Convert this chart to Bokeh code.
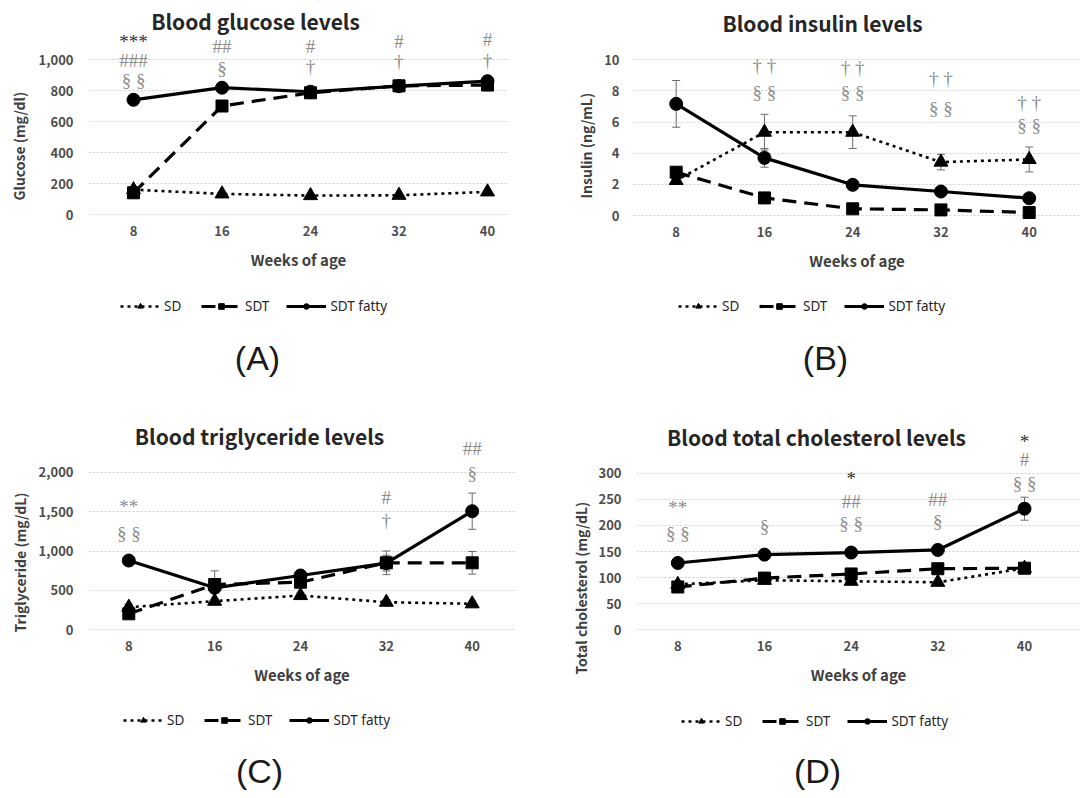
import math
from bokeh.plotting import figure
from bokeh.models import (Range1d, FixedTicker, NumeralTickFormatter, Label, Legend,
                          LegendItem, Whisker, TeeHead, ColumnDataSource)
from bokeh.layouts import column, row
from bokeh.embed import file_html
from bokeh.resources import INLINE
from bokeh.core.properties import value

# ---------------- data ----------------
weeks = [8, 16, 24, 32, 40]
series_names = ["SD", "SDT", "SDT fatty"]

glucose_sd = [160, 133, 122, 124, 146]
glucose_sdt = [140, 700, 785, 830, 835]
glucose_fatty = [740, 818, 792, 828, 860]
glucose_ticks = [0, 200, 400, 600, 800, 1000]

insulin_sd = [2.25, 5.35, 5.35, 3.43, 3.6]
insulin_sdt = [2.78, 1.13, 0.43, 0.36, 0.19]
insulin_fatty = [7.17, 3.7, 1.97, 1.54, 1.11]
insulin_sd_err = [0.2, 1.15, 1.05, 0.5, 0.8]
insulin_sdt_err = [0.2, 0.12, 0.1, 0.08, 0.05]
insulin_fatty_err = [1.5, 0.6, 0.15, 0.15, 0.12]
insulin_ticks = [0, 2, 4, 6, 8, 10]

tg_sd = [287, 363, 435, 350, 330]
tg_sdt = [203, 575, 604, 850, 850]
tg_fatty = [879, 533, 689, 846, 1505]
tg_sd_err = [40, 30, 40, 30, 35]
tg_sdt_err = [30, 60, 50, 150, 144]
tg_fatty_err = [30, 215, 40, 100, 230]
tg_ticks = [0, 500, 1000, 1500, 2000]

chol_sd = [87, 95, 93, 91, 118]
chol_sdt = [82, 99, 107, 117, 118]
chol_fatty = [128, 144, 148, 153, 232]
chol_sd_err = [4, 5, 5, 4, 5]
chol_sdt_err = [4, 6, 6, 6, 5]
chol_fatty_err = [5, 8, 5, 7, 22]
chol_ticks = [0, 50, 100, 150, 200, 250, 300]

# significance marks: week, level, text, dark?
glucose_note_x = [8, 8, 8, 16, 16, 24, 24, 32, 32, 40, 40]
glucose_note_y = [1113, 995, 867, 1081, 942, 1081, 953, 1113, 985, 1128, 995]
glucose_note_text = ["***", "###", "§ §", "##", "§", "#", "†", "#", "†", "#", "†"]
glucose_note_dark = [True] + [False] * 10

insulin_note_x = [16, 16, 24, 24, 32, 32, 40, 40]
insulin_note_y = [9.64, 7.92, 9.5, 7.9, 8.78, 6.85, 7.28, 5.78]
insulin_note_text = ["† †", "§ §", "† †", "§ §", "† †", "§ §", "† †", "§ §"]
insulin_note_dark = [False] * 8

tg_note_x = [8, 8, 32, 32, 40, 40]
tg_note_y = [1565, 1218, 1683, 1387, 2297, 1980]
tg_note_text = ["**", "§ §", "#", "†", "##", "§"]
tg_note_dark = [False] * 6

chol_note_x = [8, 8, 16, 24, 24, 24, 32, 32, 40, 40, 40]
chol_note_y = [235, 185, 198, 289, 246, 203, 249, 208, 361, 326, 280]
chol_note_text = ["**", "§ §", "§", "*", "##", "§ §", "##", "§", "*", "#", "§ §"]
chol_note_dark = [False, False, False, True, False, False, False, False, True, False, False]

TICK_FONT = "Noto Sans CJK JP"
NOTE_FONT = "Liberation Serif"
PW, PH = 543, 399


def blank(width, height):
    f = figure(width=width, height=height, output_backend="svg", toolbar_location=None,
               x_range=Range1d(0, width), y_range=Range1d(0, height), min_border=0,
               x_axis_location=None, y_axis_location=None, outline_line_color=None,
               border_fill_color="white", background_fill_color="white")
    f.grid.visible = False
    return f


def series_glyphs(p, xs, sd, sdt, fat):
    l1 = p.line(xs, sd, line_color="black", line_width=2.6, line_dash="3 4")
    m1 = p.scatter(xs, sd, marker="triangle", size=14, color="black")
    l2 = p.line(xs, sdt, line_color="black", line_width=3.2, line_dash="14 8")
    m2 = p.scatter(xs, sdt, marker="square", size=12, color="black")
    l3 = p.line(xs, fat, line_color="black", line_width=3.2)
    m3 = p.scatter(xs, fat, marker="circle", size=13, color="black")
    return (l1, m1), (l2, m2), (l3, m3)


def make_panel(cfg):
    fl, fr, ft, fb = cfg["frame"]
    w1 = cfg["w1"]
    Ht = fb + 62
    Hb = PH - Ht
    x8, x40 = cfg["xpx"]
    y0px, ytpx, ytv = cfg["ypx"]
    kx = 32.0 / (x40 - x8)
    xs = 8 - (x8 - fl) * kx
    xe = 40 + (fr - x40) * kx
    ky = ytv / (y0px - ytpx)
    ys = -(fb - y0px) * ky
    ye = (y0px - ft) * ky

    p = figure(width=PW - w1, height=Ht, output_backend="svg", toolbar_location=None,
               x_range=Range1d(xs, xe), y_range=Range1d(ys, ye),
               min_border_left=fl - w1, min_border_right=PW - fr,
               min_border_top=ft, min_border_bottom=Ht - fb,
               outline_line_color=None, background_fill_color="white",
               border_fill_color="white")

    for ax in (p.xaxis[0], p.yaxis[0]):
        ax.axis_line_color = None
        ax.major_tick_line_color = None
        ax.minor_tick_line_color = None
        ax.major_tick_out = 0
        ax.major_tick_in = 0
        ax.major_label_text_font = TICK_FONT
        ax.major_label_text_font_style = "bold"
        ax.major_label_text_font_size = "13px"
        ax.major_label_text_color = "#4d4d4d"
    p.xaxis.ticker = FixedTicker(ticks=weeks)
    p.xaxis.major_label_standoff = 7
    p.xaxis.axis_label = "Weeks of age"
    p.xaxis.axis_label_text_font = TICK_FONT
    p.xaxis.axis_label_text_font_style = "bold"
    p.xaxis.axis_label_text_font_size = "15px"
    p.xaxis.axis_label_text_color = "#404040"
    p.xaxis.axis_label_standoff = 10
    p.yaxis.ticker = FixedTicker(ticks=cfg["yticks"])
    p.yaxis.major_label_standoff = cfg["ystand"]
    if cfg.get("fmt"):
        p.yaxis.formatter = NumeralTickFormatter(format=cfg["fmt"])

    p.xgrid.grid_line_color = None
    p.ygrid.grid_line_color = "#cfcfcf"
    p.ygrid.grid_line_dash = "2 2"
    p.ygrid.grid_line_width = 1

    sd, sdt, fat = cfg["series"]
    errs = cfg.get("errs")
    if errs:
        for vals, e in zip((sd, sdt, fat), errs):
            src = ColumnDataSource(dict(x=weeks, upper=[v + d for v, d in zip(vals, e)],
                                        lower=[v - d for v, d in zip(vals, e)]))
            wk = Whisker(base="x", upper="upper", lower="lower", source=src,
                         line_color="#6b6b6b", line_width=1,
                         upper_head=TeeHead(size=8, line_color="#6b6b6b", line_width=1),
                         lower_head=TeeHead(size=8, line_color="#6b6b6b", line_width=1))
            p.add_layout(wk)

    series_glyphs(p, weeks, sd, sdt, fat)

    nx, ny, nt, nd = cfg["notes"]
    src = ColumnDataSource(dict(x=nx, y=ny, t=nt,
                                c=["#333333" if d else "#8c8c8c" for d in nd]))
    p.text(x="x", y="y", text="t", source=src, text_color="c",
           text_font=value(NOTE_FONT), text_font_size="19px",
           text_align="center", text_baseline="middle")

    # title (inside the top of the frame area)
    gx, gy = cfg["title_pos"]
    p.add_layout(Label(x=gx - fl, y=fb - gy, x_units="screen", y_units="screen",
                       text=cfg["title"], text_font=TICK_FONT, text_font_style="bold",
                       text_font_size="21px", text_color="#262626",
                       text_align="center", text_baseline="middle"))

    # y axis label strip, full panel height (text starts at its lower end)
    yl = blank(w1, PH)
    lx, ly = cfg["ylabel_pos"]
    yl.add_layout(Label(x=lx, y=PH - ly, x_units="screen", y_units="screen",
                        text=cfg["ylabel"], angle=math.pi / 2, text_font=TICK_FONT,
                        text_font_style="bold", text_font_size="14px", text_color="#404040",
                        text_align="left", text_baseline="middle"))

    # bottom figure: legend + panel letter (legend glyph renderers hidden);
    # its frame is aligned with the plot frame above, so x is measured from fl
    bt = blank(PW - w1, Hb)
    pairs = series_glyphs(bt, weeks, sd, sdt, fat)
    for pr in pairs:
        for r in pr:
            r.visible = False
    gx, gy = cfg["legend_pos"]
    legend = Legend(items=[LegendItem(label=series_names[i], renderers=list(pairs[i]))
                           for i in range(3)],
                    orientation="horizontal", location=(gx - fl, Hb - (gy - Ht) - 10),
                    glyph_width=40, glyph_height=14, label_standoff=4, spacing=17,
                    label_height=20, padding=0, margin=0, border_line_color=None,
                    background_fill_alpha=0, label_text_font="Noto Sans",
                    label_text_font_size="13.5px", label_text_color="#262626")
    bt.add_layout(legend)
    gx, gy = cfg["letter_pos"]
    bt.add_layout(Label(x=gx - fl, y=Hb - (gy - Ht), x_units="screen", y_units="screen",
                        text=cfg["letter"], text_font="Liberation Sans", text_font_size="34px",
                        text_color="#1a1a1a", text_align="center", text_baseline="middle"))

    return row(yl, column(p, bt))


pA = make_panel(dict(frame=(88, 508, 2, 218), w1=30, xpx=(133, 487), ypx=(214, 59, 1000),
                     yticks=glucose_ticks, fmt="0,0", ystand=15,
                     series=(glucose_sd, glucose_sdt, glucose_fatty),
                     notes=(glucose_note_x, glucose_note_y, glucose_note_text, glucose_note_dark),
                     title="Blood glucose levels", title_pos=(255, 20),
                     ylabel="Glucose (mg/dl)", ylabel_pos=(18, 200),
                     letter="(A)", letter_pos=(257, 357), legend_pos=(120, 306)))
pB = make_panel(dict(frame=(90, 537, 2, 219), w1=56, xpx=(132.7, 485.7), ypx=(215, 59.3, 10),
                     yticks=insulin_ticks, fmt=None, ystand=14,
                     series=(insulin_sd, insulin_sdt, insulin_fatty),
                     errs=(insulin_sd_err, insulin_sdt_err, insulin_fatty_err),
                     notes=(insulin_note_x, insulin_note_y, insulin_note_text, insulin_note_dark),
                     title="Blood insulin levels", title_pos=(279, 22),
                     ylabel="Insulin (ng/mL)", ylabel_pos=(42, 198),
                     letter="(B)", letter_pos=(282, 357), legend_pos=(135, 306)))
pC = make_panel(dict(frame=(88, 515, 2, 234), w1=30, xpx=(128.3, 471.7), ypx=(230.3, 72.7, 2000),
                     yticks=tg_ticks, fmt="0,0", ystand=15,
                     series=(tg_sd, tg_sdt, tg_fatty),
                     errs=(tg_sd_err, tg_sdt_err, tg_fatty_err),
                     notes=(tg_note_x, tg_note_y, tg_note_text, tg_note_dark),
                     title="Blood triglyceride levels", title_pos=(259, 36),
                     ylabel="Triglyceride (mg/dL)", ylabel_pos=(19, 233),
                     letter="(C)", letter_pos=(259, 371), legend_pos=(123, 321)))
pD = make_panel(dict(frame=(93, 537, 2, 234), w1=48, xpx=(134.3, 481), ypx=(230.3, 73.7, 300),
                     yticks=chol_ticks, fmt=None, ystand=15,
                     series=(chol_sd, chol_sdt, chol_fatty),
                     errs=(chol_sd_err, chol_sdt_err, chol_fatty_err),
                     notes=(chol_note_x, chol_note_y, chol_note_text, chol_note_dark),
                     title="Blood total cholesterol levels", title_pos=(273, 37),
                     ylabel="Total cholesterol (mg/dL)", ylabel_pos=(37, 275),
                     letter="(D)", letter_pos=(274, 371), legend_pos=(138, 322)))

layout = column(row(pA, pB), row(pC, pD))
open("out.html", "w").write(file_html(layout, INLINE))
